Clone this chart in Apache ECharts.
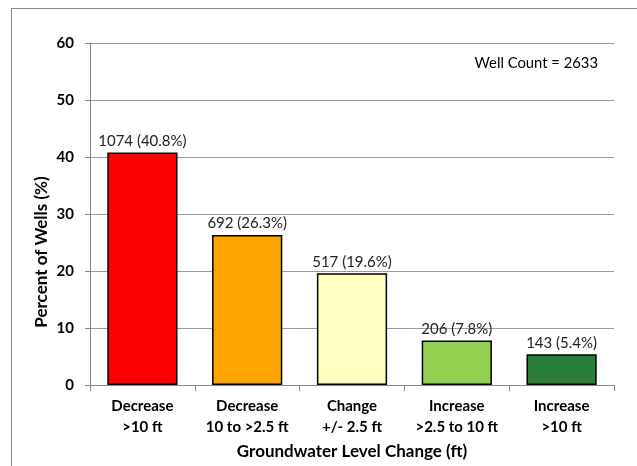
<!DOCTYPE html>
<html>
<head>
<meta charset="utf-8">
<script src="https://cdn.jsdelivr.net/npm/echarts@6/dist/echarts.min.js"></script>
<style>html,body{margin:0;padding:0;background:#fff}#c{width:637px;height:466px}</style>
</head>
<body>
<div id="c"></div>
<script>
var categories = ['Decrease\n>10 ft', 'Decrease\n10 to >2.5 ft', 'Change\n+/- 2.5 ft', 'Increase\n>2.5 to 10 ft', 'Increase\n>10 ft'];
var percents = [40.8, 26.3, 19.6, 7.8, 5.4];
var counts = [1074, 692, 517, 206, 143];
var barColors = ['#FF0000', '#FFA500', '#FFFFC0', '#92D050', '#2B7E35'];
var yTicks = [0, 10, 20, 30, 40, 50, 60];
var wellCount = 2633;

var FONT = 'Lato';
var chart = echarts.init(document.getElementById('c'));
chart.setOption({
  animation: false,
  textStyle: {fontFamily: FONT},
  grid: {left: 90, right: 23, top: 43, bottom: 81, containLabel: false},
  graphic: [
    {type: 'polyline', shape: {points: [[11.5, 466], [11.5, 8.5], [637, 8.5]]}, style: {stroke: '#888', lineWidth: 1, fill: null}},
    {type: 'text', x: 41.5, y: 252, rotation: Math.PI / 2,
     style: {text: 'Percent of Wells (%)', font: 'bold 17px ' + FONT, fill: '#000', textAlign: 'center', textVerticalAlign: 'middle'}},
    {type: 'text', x: 598, y: 63.5,
     style: {text: 'Well Count = ' + wellCount, font: '14.8px ' + FONT, fill: '#000', textAlign: 'right', textVerticalAlign: 'middle'}}
  ],
  xAxis: {
    type: 'category',
    data: categories,
    name: 'Groundwater Level Change (ft)',
    nameLocation: 'middle',
    nameGap: 58,
    nameTextStyle: {fontWeight: 'bold', fontSize: 17, color: '#000', fontFamily: FONT},
    axisLine: {lineStyle: {color: '#888', width: 1}},
    axisTick: {show: true, length: 6, lineStyle: {color: '#888'}},
    axisLabel: {interval: 0, fontWeight: 'bold', fontSize: 15, color: '#000', margin: 11, lineHeight: 20.5, fontFamily: FONT}
  },
  yAxis: {
    type: 'value',
    min: 0, max: 60, interval: 10,
    axisLine: {show: true, lineStyle: {color: '#888', width: 1}},
    axisTick: {show: true, length: 5, lineStyle: {color: '#888'}},
    splitLine: {lineStyle: {color: '#999', width: 1}},
    axisLabel: {fontWeight: 'bold', fontSize: 15, color: '#000', margin: 16, fontFamily: FONT,
      formatter: function (v) { return yTicks.indexOf(v) >= 0 ? String(v) : ''; }}
  },
  series: [{
    type: 'bar',
    barWidth: '67%',
    data: percents.map(function (p, i) {
      return {value: p, itemStyle: {color: barColors[i], borderColor: '#000', borderWidth: 1.5}};
    }),
    label: {
      show: true, position: 'top', distance: 4, color: '#222', fontSize: 15, fontFamily: FONT,
      formatter: function (p) { return counts[p.dataIndex] + ' (' + percents[p.dataIndex].toFixed(1) + '%)'; }
    }
  }]
});
</script>
</body>
</html>
